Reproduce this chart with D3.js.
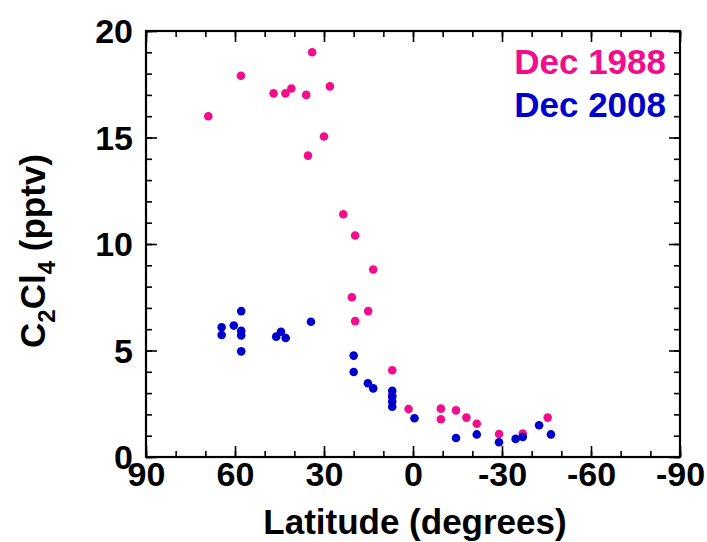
<!DOCTYPE html>
<html>
<head>
<meta charset="utf-8">
<title>C2Cl4 vs latitude</title>
<style>
    body { margin: 0; background: #fff; }
    svg text { font-family: "Liberation Sans", Arial, sans-serif; font-weight: bold; }
    .axis path, .axis line { stroke: #000; }
</style>
<script src="https://d3js.org/d3.v7.min.js"></script>
</head>
<body>
<script>
// latitude (deg) and C2Cl4 (pptv)
var lat1988 = [69, 58, 47, 43, 41, 36, 34, 28, 30, 35.4, 23.5, 19.5, 13.4, 20.6, 15.1, 19.5,
               7, 7, 1.5, -9.4, -9.4, -14.5, -18, -21.5, -29, -37, -45.4];
var val1988 = [16.0, 17.9, 17.07, 17.07, 17.3, 17.0, 19.0, 17.4, 15.05, 14.15, 11.4, 10.4, 8.8, 7.5, 6.85, 6.38,
               4.07, 2.9, 2.25, 2.27, 1.77, 2.19, 1.85, 1.56, 1.08, 1.1, 1.85];
var lat2008 = [64.5, 64.5, 60.4, 57.9, 57.9, 57.9, 57.9, 46.1, 44.5, 42.9, 34.4, 20, 20, 15.2, 13.4,
               7, 7, 7, 7, -0.5, -14.5, -21.5, -29, -34.6, -37, -42.5, -46.5];
var val2008 = [6.09, 5.73, 6.17, 6.85, 5.93, 5.71, 4.96, 5.65, 5.88, 5.59, 6.35, 4.76, 3.99, 3.46, 3.22,
               3.11, 2.83, 2.6, 2.36, 1.82, 0.89, 1.06, 0.69, 0.85, 0.94, 1.49, 1.06];

var seriesNames = ["Dec 1988", "Dec 2008"];
var seriesColors = ["#f20d8c", "#0000cc"];

var xMajor = [90, 60, 30, 0, -30, -60, -90];
var xMinor = d3.range(90, -91, -10);
var yMajor = [0, 5, 10, 15, 20];
var yMinor = d3.range(0, 21, 1);

var width = 707, height = 542;
// plot box edges (pixels)
var pL = 146, pR = 680, pT = 31, pB = 457;

var svg = d3.select("body").append("svg")
    .attr("width", width)
    .attr("height", height);

var x = d3.scaleLinear().domain([90, -90]).range([pL, pR]);
var y = d3.scaleLinear().domain([0, 20]).range([pB, pT]);

var sides = [
    {fn: d3.axisBottom, s: x, tr: [0, pB], minor: xMinor, major: xMajor, lab: "x"},
    {fn: d3.axisTop,    s: x, tr: [0, pT], minor: xMinor, major: xMajor, lab: null},
    {fn: d3.axisLeft,   s: y, tr: [pL, 0], minor: yMinor, major: yMajor, lab: "y"},
    {fn: d3.axisRight,  s: y, tr: [pR, 0], minor: yMinor, major: yMajor, lab: null}
];

sides.forEach(function(sd) {
    // minor ticks, pointing inward
    var g1 = svg.append("g").attr("class", "axis")
        .attr("transform", "translate(" + sd.tr + ")")
        .call(sd.fn(sd.s).tickValues(sd.minor).tickSize(-6).tickFormat(""));
    g1.select(".domain").remove();
    g1.selectAll("line").attr("stroke-width", 1.6);

    // major ticks
    var g2 = svg.append("g").attr("class", "axis")
        .attr("transform", "translate(" + sd.tr + ")")
        .call(sd.fn(sd.s).tickValues(sd.major).tickSize(-11)
            .tickFormat(sd.lab ? function(d){ return String(d); } : ""));
    g2.select(".domain").remove();
    g2.selectAll("line").attr("stroke-width", 1.6);
    g2.selectAll("text").attr("font-size", 34).attr("fill", "#000")
        .style("font-family", "'Liberation Sans', Arial, sans-serif").style("font-weight", "bold");
    if (sd.lab === "x") g2.selectAll("text").attr("y", 5).attr("dy", "0.71em");
    if (sd.lab === "y") g2.selectAll("text").attr("x", -13).attr("dy", "0.35em");
});

// frame
svg.append("rect")
    .attr("x", pL).attr("y", pT)
    .attr("width", pR - pL).attr("height", pB - pT)
    .attr("fill", "none").attr("stroke", "#000").attr("stroke-width", 2.2);

// points
var data1988 = lat1988.map(function(d, i){ return {lat: d, v: val1988[i]}; });
var data2008 = lat2008.map(function(d, i){ return {lat: d, v: val2008[i]}; });

[data1988, data2008].forEach(function(ds, k) {
    svg.append("g").selectAll("circle")
        .data(ds)
        .enter()
        .append("circle")
        .attr("cx", function(d){ return x(d.lat); })
        .attr("cy", function(d){ return y(d.v); })
        .attr("r", 4.3)
        .attr("fill", seriesColors[k]);
});

// legend
seriesNames.forEach(function(n, k) {
    svg.append("text")
        .attr("x", 666).attr("y", 74 + k * 43)
        .attr("text-anchor", "end")
        .attr("font-size", 35)
        .attr("fill", seriesColors[k])
        .text(n);
});

// axis titles
svg.append("text")
    .attr("x", (pL + pR) / 2 + 2).attr("y", 534)
    .attr("text-anchor", "middle")
    .attr("font-size", 35)
    .text("Latitude (degrees)");

var yl = svg.append("text")
    .attr("transform", "translate(45,251) rotate(-90)")
    .attr("text-anchor", "middle")
    .attr("font-size", 35);
yl.append("tspan").text("C");
yl.append("tspan").attr("dy", 10).attr("font-size", 24).text("2");
yl.append("tspan").attr("dy", -10).text("Cl");
yl.append("tspan").attr("dy", 10).attr("font-size", 24).text("4");
yl.append("tspan").attr("dy", -10).text(" (pptv)");
</script>
</body>
</html>
